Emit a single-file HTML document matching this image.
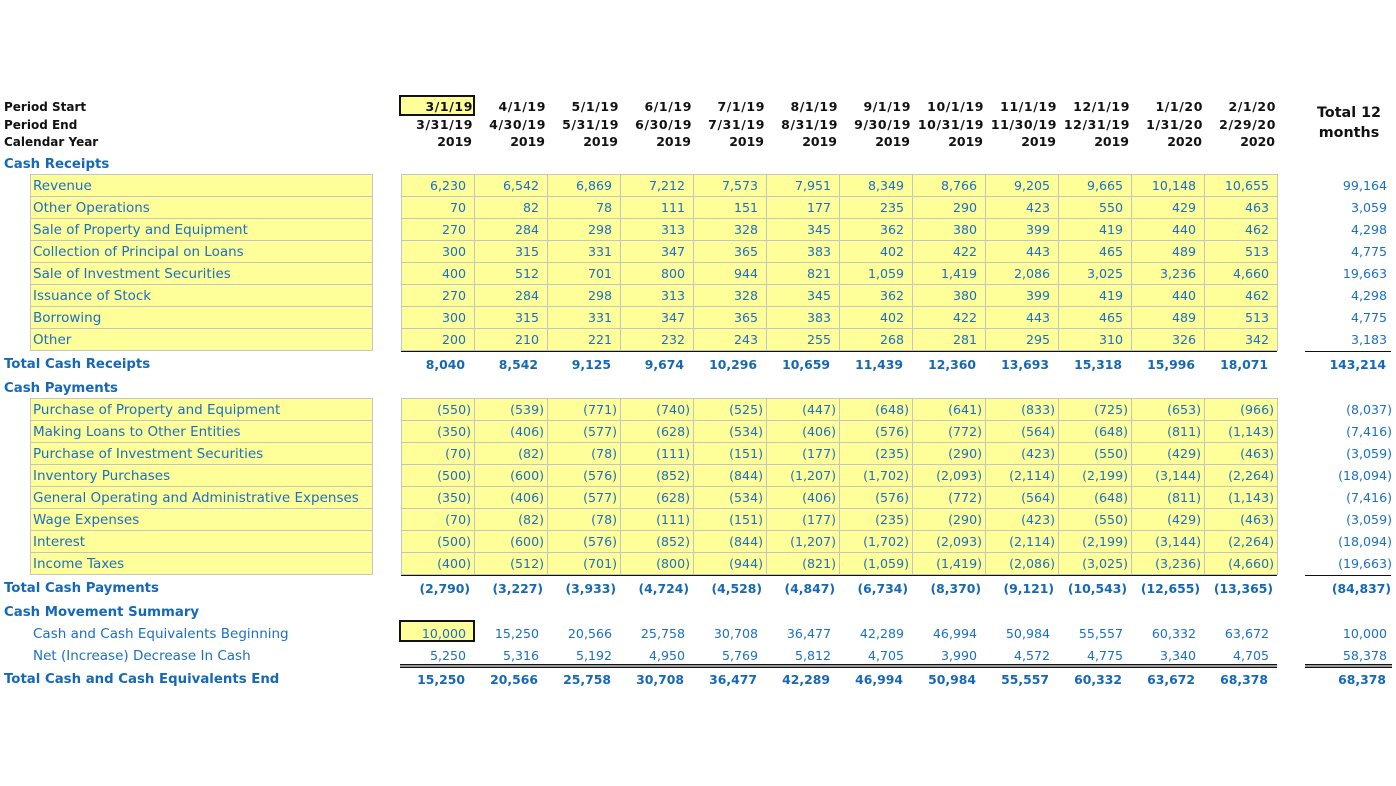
<!DOCTYPE html>
<html><head><meta charset="utf-8"><style>
body{margin:0;width:1396px;height:786px;background:#fff;position:relative;overflow:hidden;font-family:"DejaVu Sans","Liberation Sans",sans-serif;}
.ybl{position:absolute;left:30px;width:343px;background-color:#ffff99;background-image:repeating-linear-gradient(to bottom,#c4c4c4 0 1px,transparent 1px 22px);border-left:1px solid #c4c4c4;border-right:1px solid #c4c4c4;border-bottom:1px solid #c4c4c4;box-sizing:border-box;}
.ybn{position:absolute;left:401px;width:877px;background-color:#ffff99;background-image:repeating-linear-gradient(to right,#c4c4c4 0 1px,transparent 1px 73px),repeating-linear-gradient(to bottom,#c4c4c4 0 1px,transparent 1px 22px);border-right:1px solid #c4c4c4;box-sizing:border-box;}
.l{position:absolute;left:33px;height:22px;line-height:22px;margin-top:1px;font-size:13.5px;color:#1b6fc2;white-space:nowrap;}
.s{position:absolute;left:4px;height:22px;line-height:22px;margin-top:2px;font-size:13.3px;font-weight:bold;color:#1568b8;white-space:nowrap;}
.h{position:absolute;left:4px;height:18px;line-height:18px;margin-top:1px;font-size:12px;font-weight:bold;color:#111;white-space:nowrap;}
.n{position:absolute;left:401px;height:22px;line-height:22px;margin-top:1px;display:flex;font-size:12.6px;color:#1b6fc2;white-space:nowrap;}
.n span{display:block;width:73px;text-align:right;padding-right:8px;box-sizing:border-box;}
.n span.g{padding-right:3px;}
.b{font-weight:bold;color:#1568b8;font-size:12.4px;margin-top:2px;}
.b span{padding-right:9px;}
.b span.g{padding-right:4px;}
.hd{position:absolute;left:401px;height:18px;line-height:18px;margin-top:1px;display:flex;font-size:12.5px;font-weight:bold;color:#111;white-space:nowrap;}
.hd span{display:block;width:73px;text-align:right;padding-right:2px;box-sizing:border-box;}
.dt span{letter-spacing:0.6px;padding-right:1px;}
.t{position:absolute;left:1280px;width:107px;height:22px;line-height:22px;margin-top:1px;text-align:right;font-size:12.6px;color:#1b6fc2;white-space:nowrap;}
.t.g{width:112px;}
.t.b{font-size:12.4px;margin-top:2px;}
.box{position:absolute;left:399px;width:76px;height:22px;border:2px solid #111;box-sizing:border-box;background:#ffff99;}
.ul{position:absolute;height:1px;background:#111;}
.dbl{position:absolute;height:2px;border-top:1px solid #111;border-bottom:1px solid #111;background:#9a9a9a;}
</style></head><body>

<!-- header -->
<div class="box" style="top:95px;height:21px;"></div>
<div class="h" style="top:97px;">Period Start</div>
<div class="h" style="top:115px;">Period End</div>
<div class="h" style="top:132px;">Calendar Year</div>
<div class="hd dt" style="top:97px;"><span>3/1/19</span><span>4/1/19</span><span>5/1/19</span><span>6/1/19</span><span>7/1/19</span><span>8/1/19</span><span>9/1/19</span><span>10/1/19</span><span>11/1/19</span><span>12/1/19</span><span>1/1/20</span><span>2/1/20</span></div>
<div class="hd dt" style="top:115px;"><span>3/31/19</span><span>4/30/19</span><span>5/31/19</span><span>6/30/19</span><span>7/31/19</span><span>8/31/19</span><span>9/30/19</span><span>10/31/19</span><span>11/30/19</span><span>12/31/19</span><span>1/31/20</span><span>2/29/20</span></div>
<div class="hd" style="top:132px;"><span>2019</span><span>2019</span><span>2019</span><span>2019</span><span>2019</span><span>2019</span><span>2019</span><span>2019</span><span>2019</span><span>2019</span><span>2020</span><span>2020</span></div>
<div style="position:absolute;left:1300px;width:98px;top:103px;text-align:center;font-size:14.3px;font-weight:bold;color:#111;line-height:20px;">Total 12<br>months</div>

<!-- Cash receipts -->
<div class="s" style="top:152px;">Cash Receipts</div>
<div class="ybl" style="top:174px;height:177px;"></div>
<div class="ybn" style="top:174px;height:177px;"></div>
<div class="ul" style="left:401px;width:876px;top:351px;"></div>
<div class="ul" style="left:1305px;width:86px;top:351px;"></div>

<div class="l" style="top:174px;">Revenue</div>
<div class="n" style="top:174px;"><span>6,230</span><span>6,542</span><span>6,869</span><span>7,212</span><span>7,573</span><span>7,951</span><span>8,349</span><span>8,766</span><span>9,205</span><span>9,665</span><span>10,148</span><span>10,655</span></div>
<div class="t" style="top:174px;">99,164</div>

<div class="l" style="top:196px;">Other Operations</div>
<div class="n" style="top:196px;"><span>70</span><span>82</span><span>78</span><span>111</span><span>151</span><span>177</span><span>235</span><span>290</span><span>423</span><span>550</span><span>429</span><span>463</span></div>
<div class="t" style="top:196px;">3,059</div>

<div class="l" style="top:218px;">Sale of Property and Equipment</div>
<div class="n" style="top:218px;"><span>270</span><span>284</span><span>298</span><span>313</span><span>328</span><span>345</span><span>362</span><span>380</span><span>399</span><span>419</span><span>440</span><span>462</span></div>
<div class="t" style="top:218px;">4,298</div>

<div class="l" style="top:240px;">Collection of Principal on Loans</div>
<div class="n" style="top:240px;"><span>300</span><span>315</span><span>331</span><span>347</span><span>365</span><span>383</span><span>402</span><span>422</span><span>443</span><span>465</span><span>489</span><span>513</span></div>
<div class="t" style="top:240px;">4,775</div>

<div class="l" style="top:262px;">Sale of Investment Securities</div>
<div class="n" style="top:262px;"><span>400</span><span>512</span><span>701</span><span>800</span><span>944</span><span>821</span><span>1,059</span><span>1,419</span><span>2,086</span><span>3,025</span><span>3,236</span><span>4,660</span></div>
<div class="t" style="top:262px;">19,663</div>

<div class="l" style="top:284px;">Issuance of Stock</div>
<div class="n" style="top:284px;"><span>270</span><span>284</span><span>298</span><span>313</span><span>328</span><span>345</span><span>362</span><span>380</span><span>399</span><span>419</span><span>440</span><span>462</span></div>
<div class="t" style="top:284px;">4,298</div>

<div class="l" style="top:306px;">Borrowing</div>
<div class="n" style="top:306px;"><span>300</span><span>315</span><span>331</span><span>347</span><span>365</span><span>383</span><span>402</span><span>422</span><span>443</span><span>465</span><span>489</span><span>513</span></div>
<div class="t" style="top:306px;">4,775</div>

<div class="l" style="top:328px;">Other</div>
<div class="n" style="top:328px;"><span>200</span><span>210</span><span>221</span><span>232</span><span>243</span><span>255</span><span>268</span><span>281</span><span>295</span><span>310</span><span>326</span><span>342</span></div>
<div class="t" style="top:328px;">3,183</div>

<div class="s" style="top:352px;">Total Cash Receipts</div>
<div class="n b" style="top:352px;"><span>8,040</span><span>8,542</span><span>9,125</span><span>9,674</span><span>10,296</span><span>10,659</span><span>11,439</span><span>12,360</span><span>13,693</span><span>15,318</span><span>15,996</span><span>18,071</span></div>
<div class="t b" style="top:352px;font-weight:bold;color:#1568b8;width:106px;">143,214</div>

<!-- Cash payments -->
<div class="s" style="top:376px;">Cash Payments</div>
<div class="ybl" style="top:398px;height:177px;"></div>
<div class="ybn" style="top:398px;height:177px;"></div>
<div class="ul" style="left:401px;width:876px;top:575px;"></div>
<div class="ul" style="left:1305px;width:86px;top:575px;"></div>

<div class="l" style="top:398px;">Purchase of Property and Equipment</div>
<div class="n" style="top:398px;"><span class="g">(550)</span><span class="g">(539)</span><span class="g">(771)</span><span class="g">(740)</span><span class="g">(525)</span><span class="g">(447)</span><span class="g">(648)</span><span class="g">(641)</span><span class="g">(833)</span><span class="g">(725)</span><span class="g">(653)</span><span class="g">(966)</span></div>
<div class="t g" style="top:398px;">(8,037)</div>

<div class="l" style="top:420px;">Making Loans to Other Entities</div>
<div class="n" style="top:420px;"><span class="g">(350)</span><span class="g">(406)</span><span class="g">(577)</span><span class="g">(628)</span><span class="g">(534)</span><span class="g">(406)</span><span class="g">(576)</span><span class="g">(772)</span><span class="g">(564)</span><span class="g">(648)</span><span class="g">(811)</span><span class="g">(1,143)</span></div>
<div class="t g" style="top:420px;">(7,416)</div>

<div class="l" style="top:442px;">Purchase of Investment Securities</div>
<div class="n" style="top:442px;"><span class="g">(70)</span><span class="g">(82)</span><span class="g">(78)</span><span class="g">(111)</span><span class="g">(151)</span><span class="g">(177)</span><span class="g">(235)</span><span class="g">(290)</span><span class="g">(423)</span><span class="g">(550)</span><span class="g">(429)</span><span class="g">(463)</span></div>
<div class="t g" style="top:442px;">(3,059)</div>

<div class="l" style="top:464px;">Inventory Purchases</div>
<div class="n" style="top:464px;"><span class="g">(500)</span><span class="g">(600)</span><span class="g">(576)</span><span class="g">(852)</span><span class="g">(844)</span><span class="g">(1,207)</span><span class="g">(1,702)</span><span class="g">(2,093)</span><span class="g">(2,114)</span><span class="g">(2,199)</span><span class="g">(3,144)</span><span class="g">(2,264)</span></div>
<div class="t g" style="top:464px;">(18,094)</div>

<div class="l" style="top:486px;">General Operating and Administrative Expenses</div>
<div class="n" style="top:486px;"><span class="g">(350)</span><span class="g">(406)</span><span class="g">(577)</span><span class="g">(628)</span><span class="g">(534)</span><span class="g">(406)</span><span class="g">(576)</span><span class="g">(772)</span><span class="g">(564)</span><span class="g">(648)</span><span class="g">(811)</span><span class="g">(1,143)</span></div>
<div class="t g" style="top:486px;">(7,416)</div>

<div class="l" style="top:508px;">Wage Expenses</div>
<div class="n" style="top:508px;"><span class="g">(70)</span><span class="g">(82)</span><span class="g">(78)</span><span class="g">(111)</span><span class="g">(151)</span><span class="g">(177)</span><span class="g">(235)</span><span class="g">(290)</span><span class="g">(423)</span><span class="g">(550)</span><span class="g">(429)</span><span class="g">(463)</span></div>
<div class="t g" style="top:508px;">(3,059)</div>

<div class="l" style="top:530px;">Interest</div>
<div class="n" style="top:530px;"><span class="g">(500)</span><span class="g">(600)</span><span class="g">(576)</span><span class="g">(852)</span><span class="g">(844)</span><span class="g">(1,207)</span><span class="g">(1,702)</span><span class="g">(2,093)</span><span class="g">(2,114)</span><span class="g">(2,199)</span><span class="g">(3,144)</span><span class="g">(2,264)</span></div>
<div class="t g" style="top:530px;">(18,094)</div>

<div class="l" style="top:552px;">Income Taxes</div>
<div class="n" style="top:552px;"><span class="g">(400)</span><span class="g">(512)</span><span class="g">(701)</span><span class="g">(800)</span><span class="g">(944)</span><span class="g">(821)</span><span class="g">(1,059)</span><span class="g">(1,419)</span><span class="g">(2,086)</span><span class="g">(3,025)</span><span class="g">(3,236)</span><span class="g">(4,660)</span></div>
<div class="t g" style="top:552px;">(19,663)</div>

<div class="s" style="top:576px;">Total Cash Payments</div>
<div class="n b" style="top:576px;"><span class="g">(2,790)</span><span class="g">(3,227)</span><span class="g">(3,933)</span><span class="g">(4,724)</span><span class="g">(4,528)</span><span class="g">(4,847)</span><span class="g">(6,734)</span><span class="g">(8,370)</span><span class="g">(9,121)</span><span class="g">(10,543)</span><span class="g">(12,655)</span><span class="g">(13,365)</span></div>
<div class="t g b" style="top:576px;font-weight:bold;color:#1568b8;width:111px;">(84,837)</div>

<!-- Movement -->
<div class="s" style="top:600px;">Cash Movement Summary</div>
<div class="box" style="top:620px;"></div>
<div class="l" style="top:622px;">Cash and Cash Equivalents Beginning</div>
<div class="n" style="top:622px;"><span>10,000</span><span>15,250</span><span>20,566</span><span>25,758</span><span>30,708</span><span>36,477</span><span>42,289</span><span>46,994</span><span>50,984</span><span>55,557</span><span>60,332</span><span>63,672</span></div>
<div class="t" style="top:622px;">10,000</div>

<div class="l" style="top:644px;">Net (Increase) Decrease In Cash</div>
<div class="n" style="top:644px;"><span>5,250</span><span>5,316</span><span>5,192</span><span>4,950</span><span>5,769</span><span>5,812</span><span>4,705</span><span>3,990</span><span>4,572</span><span>4,775</span><span>3,340</span><span>4,705</span></div>
<div class="t" style="top:644px;">58,378</div>

<div class="dbl" style="left:400px;width:877px;top:664px;"></div>
<div class="dbl" style="left:1305px;width:87px;top:664px;"></div>

<div class="s" style="top:667px;">Total Cash and Cash Equivalents End</div>
<div class="n b" style="top:667px;"><span>15,250</span><span>20,566</span><span>25,758</span><span>30,708</span><span>36,477</span><span>42,289</span><span>46,994</span><span>50,984</span><span>55,557</span><span>60,332</span><span>63,672</span><span>68,378</span></div>
<div class="t b" style="top:667px;font-weight:bold;color:#1568b8;width:106px;">68,378</div>

</body></html>
